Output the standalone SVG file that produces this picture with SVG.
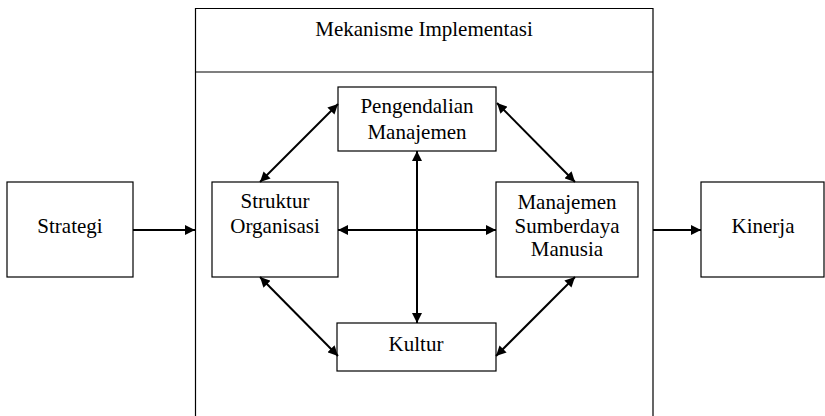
<svg xmlns="http://www.w3.org/2000/svg" width="825" height="416" viewBox="0 0 825 416">
  <style>
    .box { fill: #ffffff; stroke: #000000; stroke-width: 1.2; }
    .frame { fill: none; stroke: #000000; stroke-width: 1.2; }
    .lbl { font-size: 21px; fill: #000000; text-anchor: middle; }
    .link { stroke: #000000; stroke-width: 2; fill: none; }
  </style>
  <defs>
    <marker id="head" viewBox="0 0 10 10" refX="10" refY="5" markerWidth="10" markerHeight="10" markerUnits="userSpaceOnUse" orient="auto-start-reverse">
      <path d="M0,0 L10,5 L0,10 z" fill="#000000"/>
    </marker>
  </defs>

  <rect width="825" height="416" fill="#ffffff"/>

  <g font-family="Liberation Serif, DejaVu Serif, Times New Roman, serif">
  <!-- outer implementation frame (open at the bottom) -->
  <g id="mekanisme">
    <path class="frame" d="M195.5,420 L195.5,8.5 L653,8.5 L653,420"/>
    <line class="frame" x1="195.5" y1="72" x2="653" y2="72"/>
    <text class="lbl" x="424" y="36">Mekanisme Implementasi</text>
  </g>

  <g id="strategi">
    <rect class="box" x="7" y="182" width="126" height="95"/>
    <text class="lbl" x="70" y="233">Strategi</text>
  </g>

  <g id="kinerja">
    <rect class="box" x="701" y="182" width="123" height="95"/>
    <text class="lbl" x="763" y="233">Kinerja</text>
  </g>

  <g id="struktur">
    <rect class="box" x="212" y="182" width="126" height="95"/>
    <text class="lbl" x="275" y="208">Struktur</text>
    <text class="lbl" x="275" y="233">Organisasi</text>
  </g>

  <g id="pengendalian">
    <rect class="box" x="338" y="87" width="158" height="64"/>
    <text class="lbl" x="417" y="113">Pengendalian</text>
    <text class="lbl" x="417" y="139">Manajemen</text>
  </g>

  <g id="sdm">
    <rect class="box" x="496" y="182" width="142" height="95"/>
    <text class="lbl" x="567" y="209">Manajemen</text>
    <text class="lbl" x="567" y="233">Sumberdaya</text>
    <text class="lbl" x="567" y="256">Manusia</text>
  </g>

  <g id="kultur">
    <rect class="box" x="337" y="323" width="159" height="48"/>
    <text class="lbl" x="416" y="351">Kultur</text>
  </g>
  </g>

  <g id="connectors">
    <!-- input and output -->
    <line class="link" x1="133" y1="230" x2="195" y2="230" marker-end="url(#head)"/>
    <line class="link" x1="653" y1="230" x2="701" y2="230" marker-end="url(#head)"/>
    <!-- central cross -->
    <line class="link" x1="338" y1="230" x2="496" y2="230" marker-start="url(#head)" marker-end="url(#head)"/>
    <line class="link" x1="417" y1="151" x2="417" y2="323" marker-start="url(#head)" marker-end="url(#head)"/>
    <!-- diagonals -->
    <line class="link" x1="260" y1="182" x2="338" y2="104" marker-start="url(#head)" marker-end="url(#head)"/>
    <line class="link" x1="497" y1="103" x2="575" y2="182" marker-start="url(#head)" marker-end="url(#head)"/>
    <line class="link" x1="260" y1="277" x2="338" y2="356" marker-start="url(#head)" marker-end="url(#head)"/>
    <line class="link" x1="575" y1="277" x2="496" y2="356" marker-start="url(#head)" marker-end="url(#head)"/>
  </g>
</svg>
